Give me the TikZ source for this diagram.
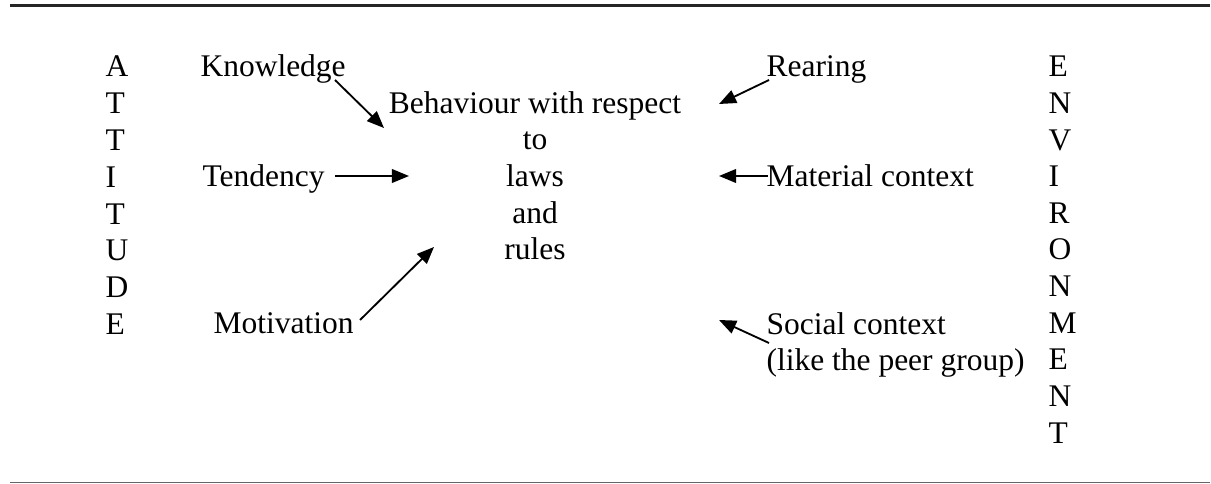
\documentclass[tikz,border=0pt]{standalone}
\usepackage{fontspec}
\setmainfont{Liberation Serif}
\usetikzlibrary{arrows.meta}
\tikzset{
  word/.style={inner sep=0pt,anchor=base west,font=\fontsize{12}{14}\selectfont},
  letter/.style={word},
  link/.style={draw=black,line width=0.7pt,-{Triangle[length=6.5pt,width=5.2pt]}},
  toprule/.style={draw=black!85,line width=0.8pt},
  botrule/.style={draw=black!60,line width=0.45pt}
}
\begin{document}
\begin{tikzpicture}[x=0.381pt,y=-0.381pt]
\useasboundingbox (0,0) rectangle (1211,484);
% page rules
\draw[toprule] (10,5.5) -- (1210,5.5);
\draw[botrule] (10,482.5) -- (1210,482.5);
% side words
\foreach \c [count=\i] in {A,T,T,I,T,U,D,E}
  \node[letter] (att\i) at (105,{77+(\i-1)*36.8}) {\c};
\foreach \c [count=\i] in {E,N,V,I,R,O,N,M,E,N,T}
  \node[letter] (env\i) at (1048,{77+(\i-1)*36.6}) {\c};
% centre (base = last line)
\node[word,anchor=base,align=center] (behav) at (535,260) {Behaviour with respect\\to\\laws\\and\\rules};
% attitude side
\node[word] (know) at (200,77) {Knowledge};
\node[word] (tend) at (202,187) {Tendency};
\node[word] (motiv) at (213,334) {Motivation};
% environment side
\node[word] (rear) at (766,77) {Rearing};
\node[word] (mater) at (766,187) {Material context};
\node[word,align=left] (social) at (766,371) {Social context\\(like the peer group)};
% arrow ends
\coordinate (knowS) at (335,80);
\coordinate (knowT) at (384,128);
\coordinate (tendS) at (335,176);
\coordinate (tendT) at (409,176);
\coordinate (motivS) at (360,320);
\coordinate (motivT) at (434,247);
\coordinate (rearS) at (769,80);
\coordinate (rearT) at (719,104);
\coordinate (materS) at (768,176);
\coordinate (materT) at (719,176);
\coordinate (socialS) at (769,343);
\coordinate (socialT) at (719,320);
\draw[link] (knowS) -- (knowT);
\draw[link] (tendS) -- (tendT);
\draw[link] (motivS) -- (motivT);
\draw[link] (rearS) -- (rearT);
\draw[link] (materS) -- (materT);
\draw[link] (socialS) -- (socialT);
\end{tikzpicture}
\end{document}
